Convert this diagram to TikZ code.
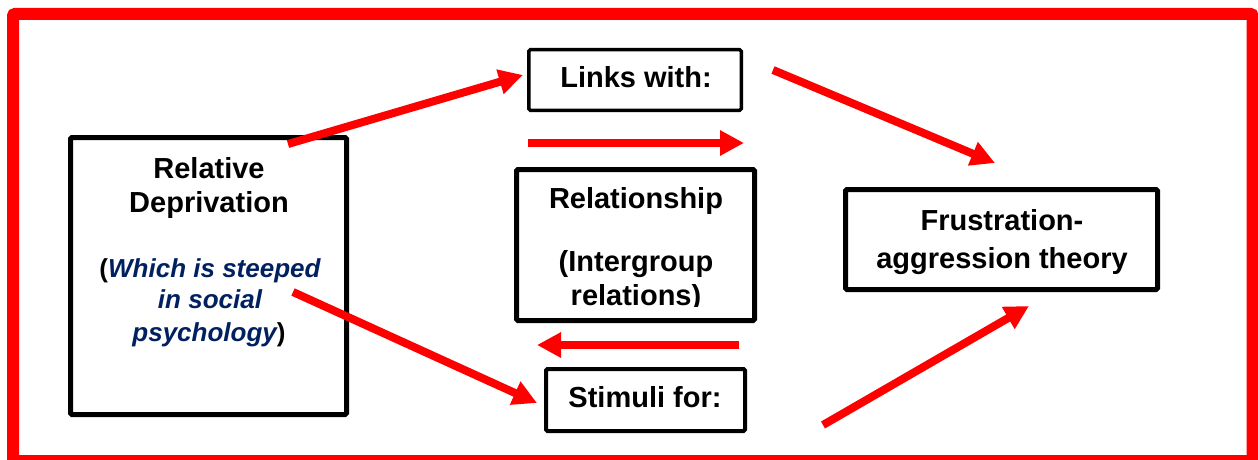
\documentclass[tikz,border=0pt]{standalone}
\usepackage{fontspec}
\setmainfont{Liberation Sans}
\usetikzlibrary{arrows.meta}
\definecolor{navy}{HTML}{002060}
\begin{document}
\begin{tikzpicture}[x=1pt,y=-1pt,
  frame/.style={draw=red,line width=12pt,rounded corners=2pt},
  box/.style={draw=black,rounded corners=1.5pt,inner sep=0pt,outer sep=0pt},
  txt/.style={anchor=base,inner sep=0pt,font=\fontsize{29}{34}\selectfont\bfseries},
  note/.style={anchor=base,inner sep=0pt,font=\fontsize{26}{32}\selectfont\bfseries},
  arr/.style={draw=red,line width=8pt,-{Triangle[length=24pt,width=24pt]}}]
\useasboundingbox (0,0) rectangle (1258,460);

% outer frame
\draw[frame] (13,14) rectangle (1252.5,461);

% boxes
\node[box,line width=5pt,minimum width=276pt,minimum height=277pt] (rd) at (208.5,276) {};
\node[box,line width=3.5pt,minimum width=212.5pt,minimum height=60.5pt] (links) at (635,80) {};
\node[box,line width=5pt,minimum width=238pt,minimum height=151pt] (rel) at (635.5,245) {};
\node[box,line width=4pt,minimum width=199pt,minimum height=62pt] (stim) at (645.5,400) {};
\node[box,line width=5pt,minimum width=312pt,minimum height=100pt] (fa) at (1001.5,239.5) {};

% texts
\node[txt] (rd1) at (209,178) {Relative};
\node[txt] (rd2) at (209,212) {Deprivation};
\node[note] (rd3) at (210,277) {(\textcolor{navy}{\itshape Which is steeped}};
\node[note] (rd4) at (210,308) {\textcolor{navy}{\itshape in social}};
\node[note] (rd5) at (209,341) {\textcolor{navy}{\itshape psychology})};

\node[txt] (lk) at (636,87) {Links with:};
\node[txt] (rl1) at (636,208) {Relationship};
\node[txt] (rl2) at (636,271) {(Intergroup};
% the last line of this text frame is cut off just below its baseline
\begin{scope}
  \clip (514,167) rectangle (757,306);
  \node[txt] (rl3) at (636,305) {relations)};
\end{scope}
\node[txt] (st) at (645,407) {Stimuli for:};
\node[txt] (fa1) at (1002,230) {Frustration-};
\node[txt] (fa2) at (1002,268) {aggression theory};

% connector end points
\coordinate (a1s) at (288,144);  \coordinate (a1e) at (523,75);
\coordinate (a2s) at (293,292);  \coordinate (a2e) at (537,403);
\coordinate (a3s) at (773,70);   \coordinate (a3e) at (995,163);
\coordinate (a4s) at (823,425);  \coordinate (a4e) at (1029,306);
\coordinate (h1s) at (528,143);  \coordinate (h1e) at (744,143);
\coordinate (h2s) at (739,345);  \coordinate (h2e) at (537,345);

% arrows
\draw[arr] (a1s) -- (a1e);
\draw[arr] (a2s) -- (a2e);
\draw[arr] (a3s) -- (a3e);
\draw[arr] (a4s) -- (a4e);
\draw[arr] (h1s) -- (h1e);
\draw[arr] (h2s) -- (h2e);
\end{tikzpicture}
\end{document}
